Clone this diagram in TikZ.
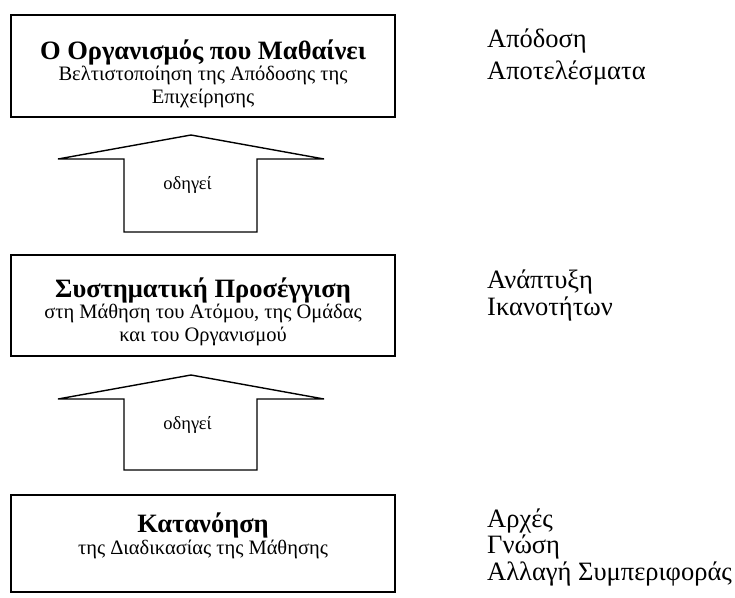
\documentclass[tikz,border=0pt]{standalone}
\usepackage{fontspec}
\setmainfont{Liberation Serif}
\begin{document}
\begin{tikzpicture}[x=1pt,y=-1pt,
  box/.style={draw,line width=1.8pt,minimum width=384pt,inner sep=0pt},
  blockarrow/.style={draw,line width=1.4pt,line join=miter,fill=white},
  title/.style={font=\bfseries\fontsize{26.5}{31}\selectfont,anchor=base,inner sep=0pt},
  sub/.style={font=\fontsize{20.5}{24}\selectfont,anchor=base,inner sep=0pt},
  side/.style={font=\fontsize{26.5}{30}\selectfont,anchor=base west,inner sep=0pt},
  lbl/.style={font=\fontsize{18.5}{22}\selectfont,inner sep=0pt}]
\useasboundingbox (0,0) rectangle (735,597);

% three stages
\node[box,minimum height=102pt] (b1) at (203,66) {};
\node[box,minimum height=101pt] (b2) at (203,305.5) {};
\node[box,minimum height=97pt] (b3) at (203,543.5) {};

% texts of the top stage
\node[title] (t1) at (203,59) {Ο Οργανισμός που Μαθαίνει};
\node[sub] (s1a) at (203,80) {Βελτιστοποίηση της Απόδοσης της};
\node[sub] (s1b) at (203,103) {Επιχείρησης};

% texts of the middle stage
\node[title] (t2) at (203,297) {Συστηματική Προσέγγιση};
\node[sub] (s2a) at (203,318) {στη Μάθηση του Ατόμου, της Ομάδας};
\node[sub] (s2b) at (203,341) {και του Οργανισμού};

% texts of the bottom stage
\node[title] (t3) at (203,532) {Κατανόηση};
\node[sub] (s3a) at (203,554) {της Διαδικασίας της Μάθησης};

% block arrows between the stages
\draw[blockarrow] (124,232) -- (124,159) -- (58,159) -- (191,135) -- (324,159)
  -- (257,159) -- (257,232) -- cycle;
\node[lbl] (a1) at (187.5,185) {οδηγεί};
\draw[blockarrow] (124,470) -- (124,399) -- (58,399) -- (191,375) -- (324,399)
  -- (257,399) -- (257,470) -- cycle;
\node[lbl] (a2) at (187.5,425) {οδηγεί};

% outcomes on the right
\node[side] (r1a) at (487,47) {Απόδοση};
\node[side] (r1b) at (487,79) {Αποτελέσματα};
\node[side] (r2a) at (487,288) {Ανάπτυξη};
\node[side] (r2b) at (487,315) {Ικανοτήτων};
\node[side] (r3a) at (487,527) {Αρχές};
\node[side] (r3b) at (487,553.5) {Γνώση};
\node[side] (r3c) at (487,580) {Αλλαγή Συμπεριφοράς};
\end{tikzpicture}
\end{document}
